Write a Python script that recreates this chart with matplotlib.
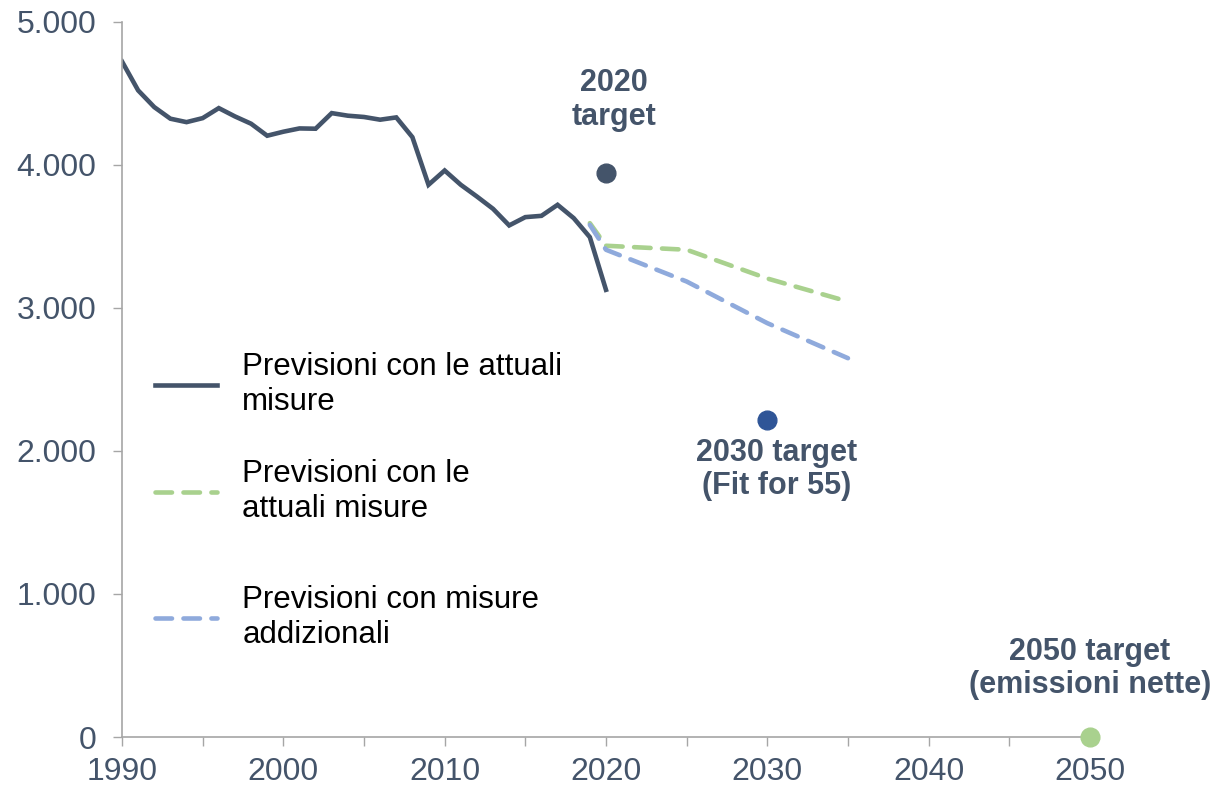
import matplotlib
matplotlib.use("Agg")
import matplotlib.pyplot as plt
from matplotlib.ticker import FuncFormatter, MultipleLocator

plt.rcParams['font.family'] = ['Liberation Sans', 'DejaVu Sans']

# Historical emissions
hist_years = list(range(1990, 2021))
hist_values = [4722, 4520, 4403, 4322, 4298, 4326, 4396, 4338, 4287, 4203,
               4231, 4254, 4252, 4361, 4343, 4334, 4315, 4331, 4193, 3860,
               3960, 3860, 3778, 3692, 3576, 3634, 3643, 3720, 3627, 3494,
               3126]

# Projections with current measures
wem_years = [2019, 2020, 2025, 2030, 2035]
wem_values = [3592, 3434, 3406, 3205, 3044]

# Projections with additional measures
wam_years = [2019, 2020, 2025, 2030, 2035]
wam_values = [3580, 3406, 3184, 2893, 2648]

# Targets
target_years = [2020, 2030, 2050]
target_values = [3944, 2217, 0]
target_labels = ["2020\ntarget", "2030 target\n(Fit for 55)", "2050 target\n(emissioni nette)"]

legend_labels = ["Previsioni con le attuali\nmisure",
                 "Previsioni con le\nattuali misure",
                 "Previsioni con misure\naddizionali"]

DARK = "#44546A"
GREEN = "#A9D18E"
BLUE = "#8FAADC"
NAVY = "#2F5597"
GRAY = "#A6A6A6"

fig = plt.figure(figsize=(12.2, 7.92), dpi=100)
ax = fig.add_axes([0.1, 0.0694, 0.7934, 0.9032])

l1, = ax.plot(hist_years, hist_values, color=DARK, lw=3.3, solid_joinstyle='miter',
              label=legend_labels[0])
l2, = ax.plot(wem_years, wem_values, color=GREEN, lw=3.3, linestyle=(0, (3.6, 2.5)),
              dash_capstyle='round', label=legend_labels[1])
l3, = ax.plot(wam_years, wam_values, color=BLUE, lw=3.3, linestyle=(0, (3.6, 2.5)),
              dash_capstyle='round', label=legend_labels[2])

dot_colors = [DARK, NAVY, GREEN]
for yr, val, c in zip(target_years, target_values, dot_colors):
    ax.plot([yr], [val], 'o', color=c, markersize=13.5, clip_on=False, zorder=5)

# target annotations
txt_kw = dict(color=DARK, fontsize=22, fontweight='bold', ha='center',
              linespacing=1.15, textcoords='offset pixels', annotation_clip=False)
ax.annotate(target_labels[0], xy=(target_years[0], target_values[0]),
            xytext=(8, 41), va='bottom', **txt_kw)
ax.annotate(target_labels[1], xy=(target_years[1], target_values[1]),
            xytext=(9, -18), va='top', **txt_kw)
ax.annotate(target_labels[2], xy=(target_years[2], target_values[2]),
            xytext=(0, 37), va='bottom', **txt_kw)

ax.set_xlim(1990, 2050)
ax.set_ylim(0, 5000)
ax.xaxis.set_major_locator(MultipleLocator(10))
ax.xaxis.set_minor_locator(MultipleLocator(5))
ax.yaxis.set_major_locator(MultipleLocator(1000))
ax.yaxis.set_major_formatter(FuncFormatter(lambda v, p: f"{int(v):,}".replace(",", ".")))

for s in ['top', 'right']:
    ax.spines[s].set_visible(False)
for s in ['left', 'bottom']:
    ax.spines[s].set_color(GRAY)
    ax.spines[s].set_linewidth(1.2)

ax.tick_params(axis='both', which='both', direction='out', color=GRAY,
               length=6.5, width=1.0, labelcolor=DARK, labelsize=23)
ax.tick_params(axis='x', which='both', pad=8)
ax.tick_params(axis='y', pad=12)

leg_kw = dict(loc='upper left', frameon=False, fontsize=22.5, handlelength=2.0,
              handletextpad=0.8, labelspacing=1.35, borderpad=0.0,
              borderaxespad=0.0)
leg1 = ax.legend(handles=[l1, l2], labels=legend_labels[:2],
                 bbox_to_anchor=(0.034, 0.538), **leg_kw)
for t in leg1.get_texts():
    t.set_color('black')
ax.add_artist(leg1)
leg2 = ax.legend(handles=[l3], labels=legend_labels[2:],
                 bbox_to_anchor=(0.034, 0.2126), **leg_kw)
for t in leg2.get_texts():
    t.set_color('black')

fig.savefig("out.png", dpi=100)
